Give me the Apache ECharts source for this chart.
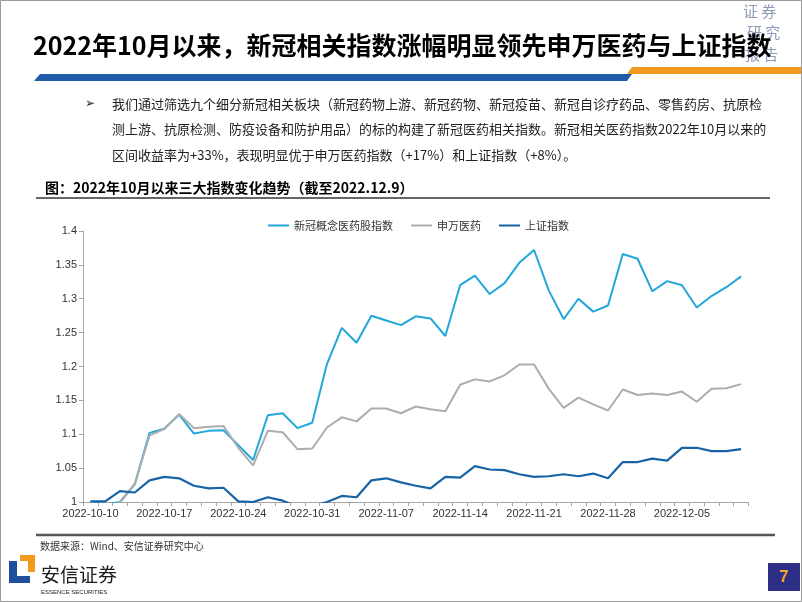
<!DOCTYPE html>
<html>
<head>
<meta charset="utf-8">
<script src="https://cdn.jsdelivr.net/npm/echarts@6/dist/echarts.min.js"></script>
<style>
html,body{margin:0;padding:0;background:#fff;}
#c{width:802px;height:602px;}
</style>
</head>
<body>
<div id="c"></div>
<script>
// ---- data ----
const dates = [
 '2022-10-10','2022-10-11','2022-10-12','2022-10-13','2022-10-14',
 '2022-10-17','2022-10-18','2022-10-19','2022-10-20','2022-10-21',
 '2022-10-24','2022-10-25','2022-10-26','2022-10-27','2022-10-28',
 '2022-10-31','2022-11-01','2022-11-02','2022-11-03','2022-11-04',
 '2022-11-07','2022-11-08','2022-11-09','2022-11-10','2022-11-11',
 '2022-11-14','2022-11-15','2022-11-16','2022-11-17','2022-11-18',
 '2022-11-21','2022-11-22','2022-11-23','2022-11-24','2022-11-25',
 '2022-11-28','2022-11-29','2022-11-30','2022-12-01','2022-12-02',
 '2022-12-05','2022-12-06','2022-12-07','2022-12-08','2022-12-09'
];
const seriesNames = ['新冠概念医药股指数','申万医药','上证指数'];
const covidIndex = [
 1.000,0.996,1.000,1.026,1.102,
 1.108,1.129,1.101,1.105,1.106,
 1.084,1.062,1.128,1.131,1.109,
 1.117,1.204,1.257,1.235,1.275,
 1.268,1.261,1.274,1.271,1.245,
 1.320,1.334,1.307,1.323,1.353,
 1.372,1.312,1.270,1.300,1.281,
 1.290,1.366,1.359,1.311,1.326,
 1.320,1.287,1.304,1.317,1.333
];
const swPharma = [
 1.000,0.990,0.999,1.027,1.098,
 1.108,1.130,1.109,1.111,1.112,
 1.080,1.054,1.105,1.103,1.078,
 1.079,1.110,1.125,1.119,1.138,
 1.138,1.131,1.141,1.137,1.134,
 1.173,1.181,1.178,1.187,1.203,
 1.203,1.167,1.139,1.154,1.144,
 1.135,1.166,1.158,1.160,1.158,
 1.163,1.148,1.167,1.168,1.174
];
const shIndex = [
 1.001,1.001,1.016,1.014,1.032,
 1.037,1.035,1.024,1.020,1.021,
 1.001,1.000,1.007,1.002,0.993,
 0.994,1.000,1.009,1.007,1.032,
 1.035,1.029,1.024,1.020,1.037,
 1.036,1.053,1.048,1.047,1.041,
 1.037,1.038,1.041,1.038,1.042,
 1.035,1.059,1.059,1.064,1.061,
 1.080,1.080,1.075,1.075,1.078
];
const yMin = 1, yMax = 1.4, yStep = 0.05;
const labelEvery = 5;

const titleText = '2022年10月以来，新冠相关指数涨幅明显领先申万医药与上证指数';
const paraLines = [
 '我们通过筛选九个细分新冠相关板块（新冠药物上游、新冠药物、新冠疫苗、新冠自诊疗药品、零售药房、抗原检',
 '测上游、抗原检测、防疫设备和防护用品）的标的构建了新冠医药相关指数。新冠相关医药指数2022年10月以来的',
 '区间收益率为+33%，表现明显优于申万医药指数（+17%）和上证指数（+8%）。'
];
const chartTitle = '图：2022年10月以来三大指数变化趋势（截至2022.12.9）';
const sourceText = '数据来源：Wind、安信证券研究中心';

// ---- styles ----
const colors = ['#22A7DA','#ADADAD','#1763A6'];
const CJK = "'Noto Sans CJK SC'";
const axisGrey = '#A6A6A6';

const chart = echarts.init(document.getElementById('c'), null, {renderer:'canvas'});

const graphics = [
  // page border
  {type:'rect', shape:{x:0.5,y:0.5,width:801,height:601}, style:{fill:'none',stroke:'#9A9A9A',lineWidth:1}, z:100},
  // top-right vertical label
  {type:'text', x:743, y:4, style:{text:'证 券', font:"15px 'Noto Sans CJK SC'", fill:'#8E9AB7'}},
  {type:'text', x:747, y:25, style:{text:'研 究', font:"15px 'Noto Sans CJK SC'", fill:'#8E9AB7'}},
  {type:'text', x:745, y:47, style:{text:'报 告', font:"15px 'Noto Sans CJK SC'", fill:'#8E9AB7'}},
  // title
  {type:'text', x:33, y:45, style:{text:titleText, font:"bold 25px 'Liberation Sans Narrow','Noto Sans CJK SC'", fill:'#000', textVerticalAlign:'middle'}, z:10},
  // bars under title
  {type:'polygon', shape:{points:[[40,74],[632,74],[627,81],[34,81]]}, style:{fill:'#1E5BA8'}},
  {type:'polygon', shape:{points:[[632,67],[802,67],[802,74],[627,74]]}, style:{fill:'#F39A1E'}},
  // paragraph
  {type:'text', x:85, y:104, style:{text:'➢', font:"12px 'DejaVu Sans'", fill:'#222', textVerticalAlign:'middle'}},
  {type:'text', x:112, y:104, style:{text:paraLines[0], font:"13px "+CJK, fill:'#222', textVerticalAlign:'middle'}},
  {type:'text', x:112, y:129, style:{text:paraLines[1], font:"13px "+CJK, fill:'#222', textVerticalAlign:'middle'}},
  {type:'text', x:112, y:155, style:{text:paraLines[2], font:"13px "+CJK, fill:'#222', textVerticalAlign:'middle'}},
  // chart title
  {type:'text', x:45, y:188, style:{text:chartTitle, font:"bold 14px "+CJK, fill:'#000', textVerticalAlign:'middle'}},
  {type:'line', shape:{x1:36,y1:198,x2:770,y2:198}, style:{stroke:'#333',lineWidth:1.5}},
  // bottom rule & source
  {type:'line', shape:{x1:36,y1:535,x2:775,y2:535}, style:{stroke:'#555',lineWidth:2.5}},
  {type:'text', x:40, y:546, style:{text:sourceText, font:"10px "+CJK, fill:'#333', textVerticalAlign:'middle'}},
  // logo
  {type:'polygon', shape:{points:[[9,561],[17,561],[17,576],[30,576],[30,583],[9,583]]}, style:{fill:'#1F4E9C'}},
  {type:'polygon', shape:{points:[[20,555],[35,555],[35,572],[28,572],[28,561],[20,561]]}, style:{fill:'#F39A1E'}},
  {type:'text', x:41, y:575, style:{text:'安信证券', font:"19px "+CJK, fill:'#1B1B1B', textVerticalAlign:'middle'}},
  {type:'text', x:41, y:592, style:{text:'ESSENCE SECURITIES', font:"6px 'Liberation Sans'", fill:'#1B1B1B', textVerticalAlign:'middle'}},
  // page number
  {type:'rect', shape:{x:768,y:563,width:32,height:28}, style:{fill:'#2C2F85'}},
  {type:'text', x:784, y:577, style:{text:'7', font:"bold 17px 'Liberation Sans'", fill:'#F5A623', textAlign:'center', textVerticalAlign:'middle'}}
];

const option = {
  animation:false,
  backgroundColor:'#fff',
  color:colors,
  graphic:graphics,
  legend:{
    data:seriesNames,
    left:263, top:215,
    icon:'rect', itemWidth:21, itemHeight:2, itemGap:18,
    textStyle:{fontFamily:'Noto Sans CJK SC', fontSize:11, color:'#333'}
  },
  grid:{left:83, right:53.5, top:231, bottom:100, containLabel:false},
  xAxis:{
    type:'category', data:dates, boundaryGap:true,
    axisLine:{lineStyle:{color:axisGrey,width:1}},
    axisTick:{show:true, interval:0, length:4, lineStyle:{color:axisGrey}},
    axisLabel:{interval:labelEvery-1, margin:6, fontFamily:'Liberation Sans', fontSize:11, color:'#333'},
    splitLine:{show:false}
  },
  yAxis:{
    type:'value', min:yMin, max:yMax, interval:yStep,
    axisLine:{show:true, lineStyle:{color:axisGrey,width:1}},
    axisTick:{show:true, length:4, lineStyle:{color:axisGrey}},
    axisLabel:{margin:6, fontFamily:'Liberation Sans', fontSize:11, color:'#333'},
    splitLine:{show:false}
  },
  series:[
    {name:seriesNames[0], type:'line', data:covidIndex, symbol:'none', lineStyle:{width:2}, clip:true},
    {name:seriesNames[1], type:'line', data:swPharma, symbol:'none', lineStyle:{width:2}, clip:true},
    {name:seriesNames[2], type:'line', data:shIndex, symbol:'none', lineStyle:{width:2.2}, clip:true}
  ]
};
chart.setOption(option);
</script>
</body>
</html>
